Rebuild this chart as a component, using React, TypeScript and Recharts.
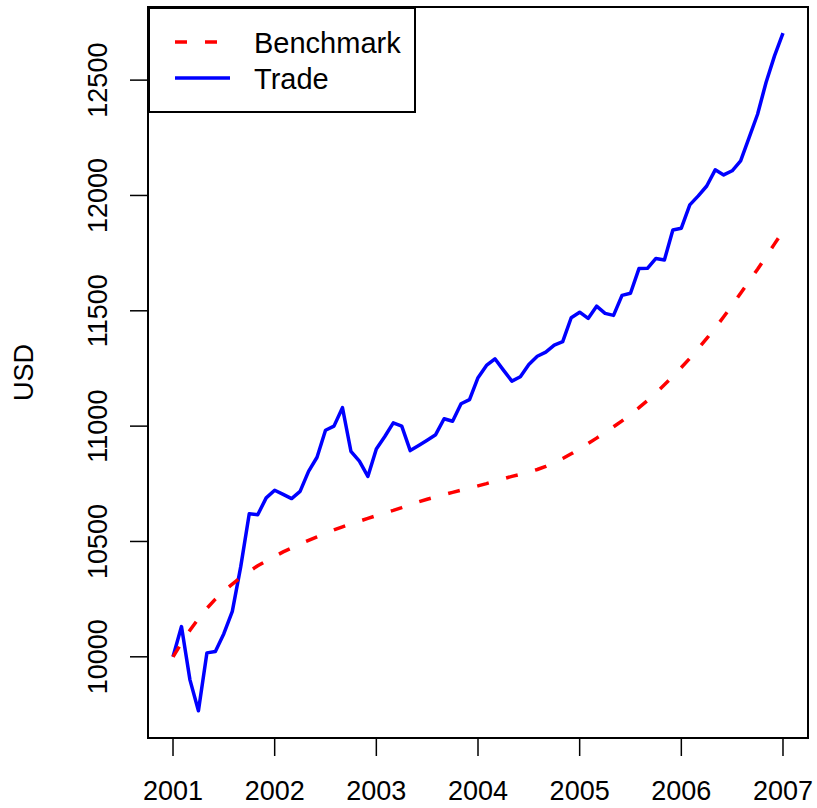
import { LineChart, Line, XAxis, YAxis, ReferenceArea, Legend } from "recharts";

// monthly values, Jan 2001 .. Jan 2007
const tradeValues = [
  10000, 10131, 9900, 9766, 10017, 10023, 10100, 10197, 10392, 10620, 10616, 10689,
  10722, 10704, 10686, 10717, 10804, 10865, 10982, 11000, 11080, 10891, 10848, 10782,
  10901, 10955, 11014, 11000, 10894, 10916, 10939, 10963, 11032, 11021, 11097, 11115,
  11210, 11263, 11292, 11243, 11195, 11214, 11267, 11303, 11321, 11351, 11366, 11470,
  11494, 11467, 11520, 11489, 11480, 11567, 11576, 11683, 11684, 11727, 11720, 11850,
  11858, 11959, 11998, 12041, 12111, 12089, 12107, 12150, 12251, 12352, 12490, 12605,
  12704,
];

const benchmarkValues = [
  10000, 10060, 10115, 10165, 10210, 10250, 10285, 10315, 10345, 10370, 10395, 10415,
  10435, 10455, 10472, 10490, 10505, 10520, 10535, 10550, 10563, 10576, 10588, 10600,
  10612, 10624, 10635, 10647, 10660, 10672, 10683, 10693, 10703, 10713, 10722, 10731,
  10741, 10751, 10762, 10772, 10782, 10791, 10801, 10812, 10826, 10842, 10860, 10880,
  10902, 10925, 10948, 10972, 10997, 11023, 11051, 11080, 11111, 11144, 11179, 11215,
  11254, 11294, 11336, 11380, 11426, 11474, 11524, 11576, 11628, 11680, 11735, 11790,
  11845,
];

const yearTicks = [2001, 2002, 2003, 2004, 2005, 2006, 2007];
const usdTicks = [10000, 10500, 11000, 11500, 12000, 12500];

const data = tradeValues.map((v, i) => ({
  t: 2001 + i / 12,
  trade: v,
  benchmark: benchmarkValues[i],
}));

const xDomain = [2000.754, 2007.246];
const yDomain = [9648, 12817];
const font = "'Liberation Sans', Arial, Helvetica, sans-serif";

const XTick = (props: any) => (
  <text x={props.x} y={props.y + 44} textAnchor="middle" fontSize={27} fontFamily={font} fill="#000">
    {props.payload.value}
  </text>
);

const YTick = (props: any) => {
  const x = props.x - 23;
  return (
    <text
      x={x}
      y={props.y}
      textAnchor="middle"
      transform={`rotate(-90, ${x}, ${props.y})`}
      fontSize={27}
      fontFamily={font}
      fill="#000"
    >
      {props.payload.value}
    </text>
  );
};

const LegendBox = () => (
  <div
    style={{
      width: 268,
      height: 106,
      boxSizing: "border-box",
      border: "2px solid #000",
      background: "#fff",
      position: "relative",
    }}
  >
    <svg width={264} height={102} style={{ position: "absolute", left: 0, top: 0 }}>
      <line x1={25} y1={33} x2={68} y2={33} stroke="#ff0000" strokeWidth={3.5} strokeDasharray="12 18" />
      <line x1={25} y1={69} x2={80} y2={69} stroke="#0000ff" strokeWidth={3.5} />
      <text x={104} y={34} dominantBaseline="central" fontSize={29} fontFamily={font} fill="#000">
        Benchmark
      </text>
      <text x={104} y={70} dominantBaseline="central" fontSize={29} fontFamily={font} fill="#000">
        Trade
      </text>
    </svg>
  </div>
);

export default function App() {
  return (
    <div style={{ position: "absolute", left: 0, top: 0, background: "#fff" }}>
      <LineChart width={817} height={808} data={data} margin={{ top: 7, right: 9, bottom: 0, left: 0 }}>
        <XAxis
          dataKey="t"
          type="number"
          domain={xDomain}
          ticks={yearTicks}
          allowDataOverflow
          height={70}
          tickSize={18}
          tickMargin={0}
          tick={XTick}
          axisLine={false}
          tickLine={{ stroke: "#000", strokeWidth: 1.5 }}
        />
        <YAxis
          type="number"
          domain={yDomain}
          ticks={usdTicks}
          allowDataOverflow
          width={148}
          tickSize={18}
          tickMargin={0}
          tick={YTick}
          axisLine={false}
          tickLine={{ stroke: "#000", strokeWidth: 1.5 }}
          label={{
            content: (p: any) => {
              const vb = p.viewBox;
              const x = vb.x + 33;
              const y = vb.y + vb.height / 2;
              return (
                <text
                  x={x}
                  y={y}
                  textAnchor="middle"
                  transform={`rotate(-90, ${x}, ${y})`}
                  fontSize={27}
                  fontFamily={font}
                  fill="#000"
                >
                  USD
                </text>
              );
            },
          }}
        />
        <ReferenceArea
          x1={xDomain[0]}
          x2={xDomain[1]}
          y1={yDomain[0]}
          y2={yDomain[1]}
          fill="none"
          fillOpacity={0}
          stroke="#000"
          strokeWidth={2}
          ifOverflow="visible"
        />
        <Line
          dataKey="trade"
          stroke="#0000ff"
          strokeWidth={3.5}
          dot={false}
          strokeLinejoin="round"
          isAnimationActive={false}
        />
        <Line
          dataKey="benchmark"
          stroke="#ff0000"
          strokeWidth={3.5}
          strokeDasharray="12 18"
          dot={false}
          isAnimationActive={false}
        />
        <Legend
          layout="horizontal"
          verticalAlign="middle"
          align="center"
          content={LegendBox}
          wrapperStyle={{ left: 148, top: 7, width: 268, height: 106 }}
        />
      </LineChart>
    </div>
  );
}
